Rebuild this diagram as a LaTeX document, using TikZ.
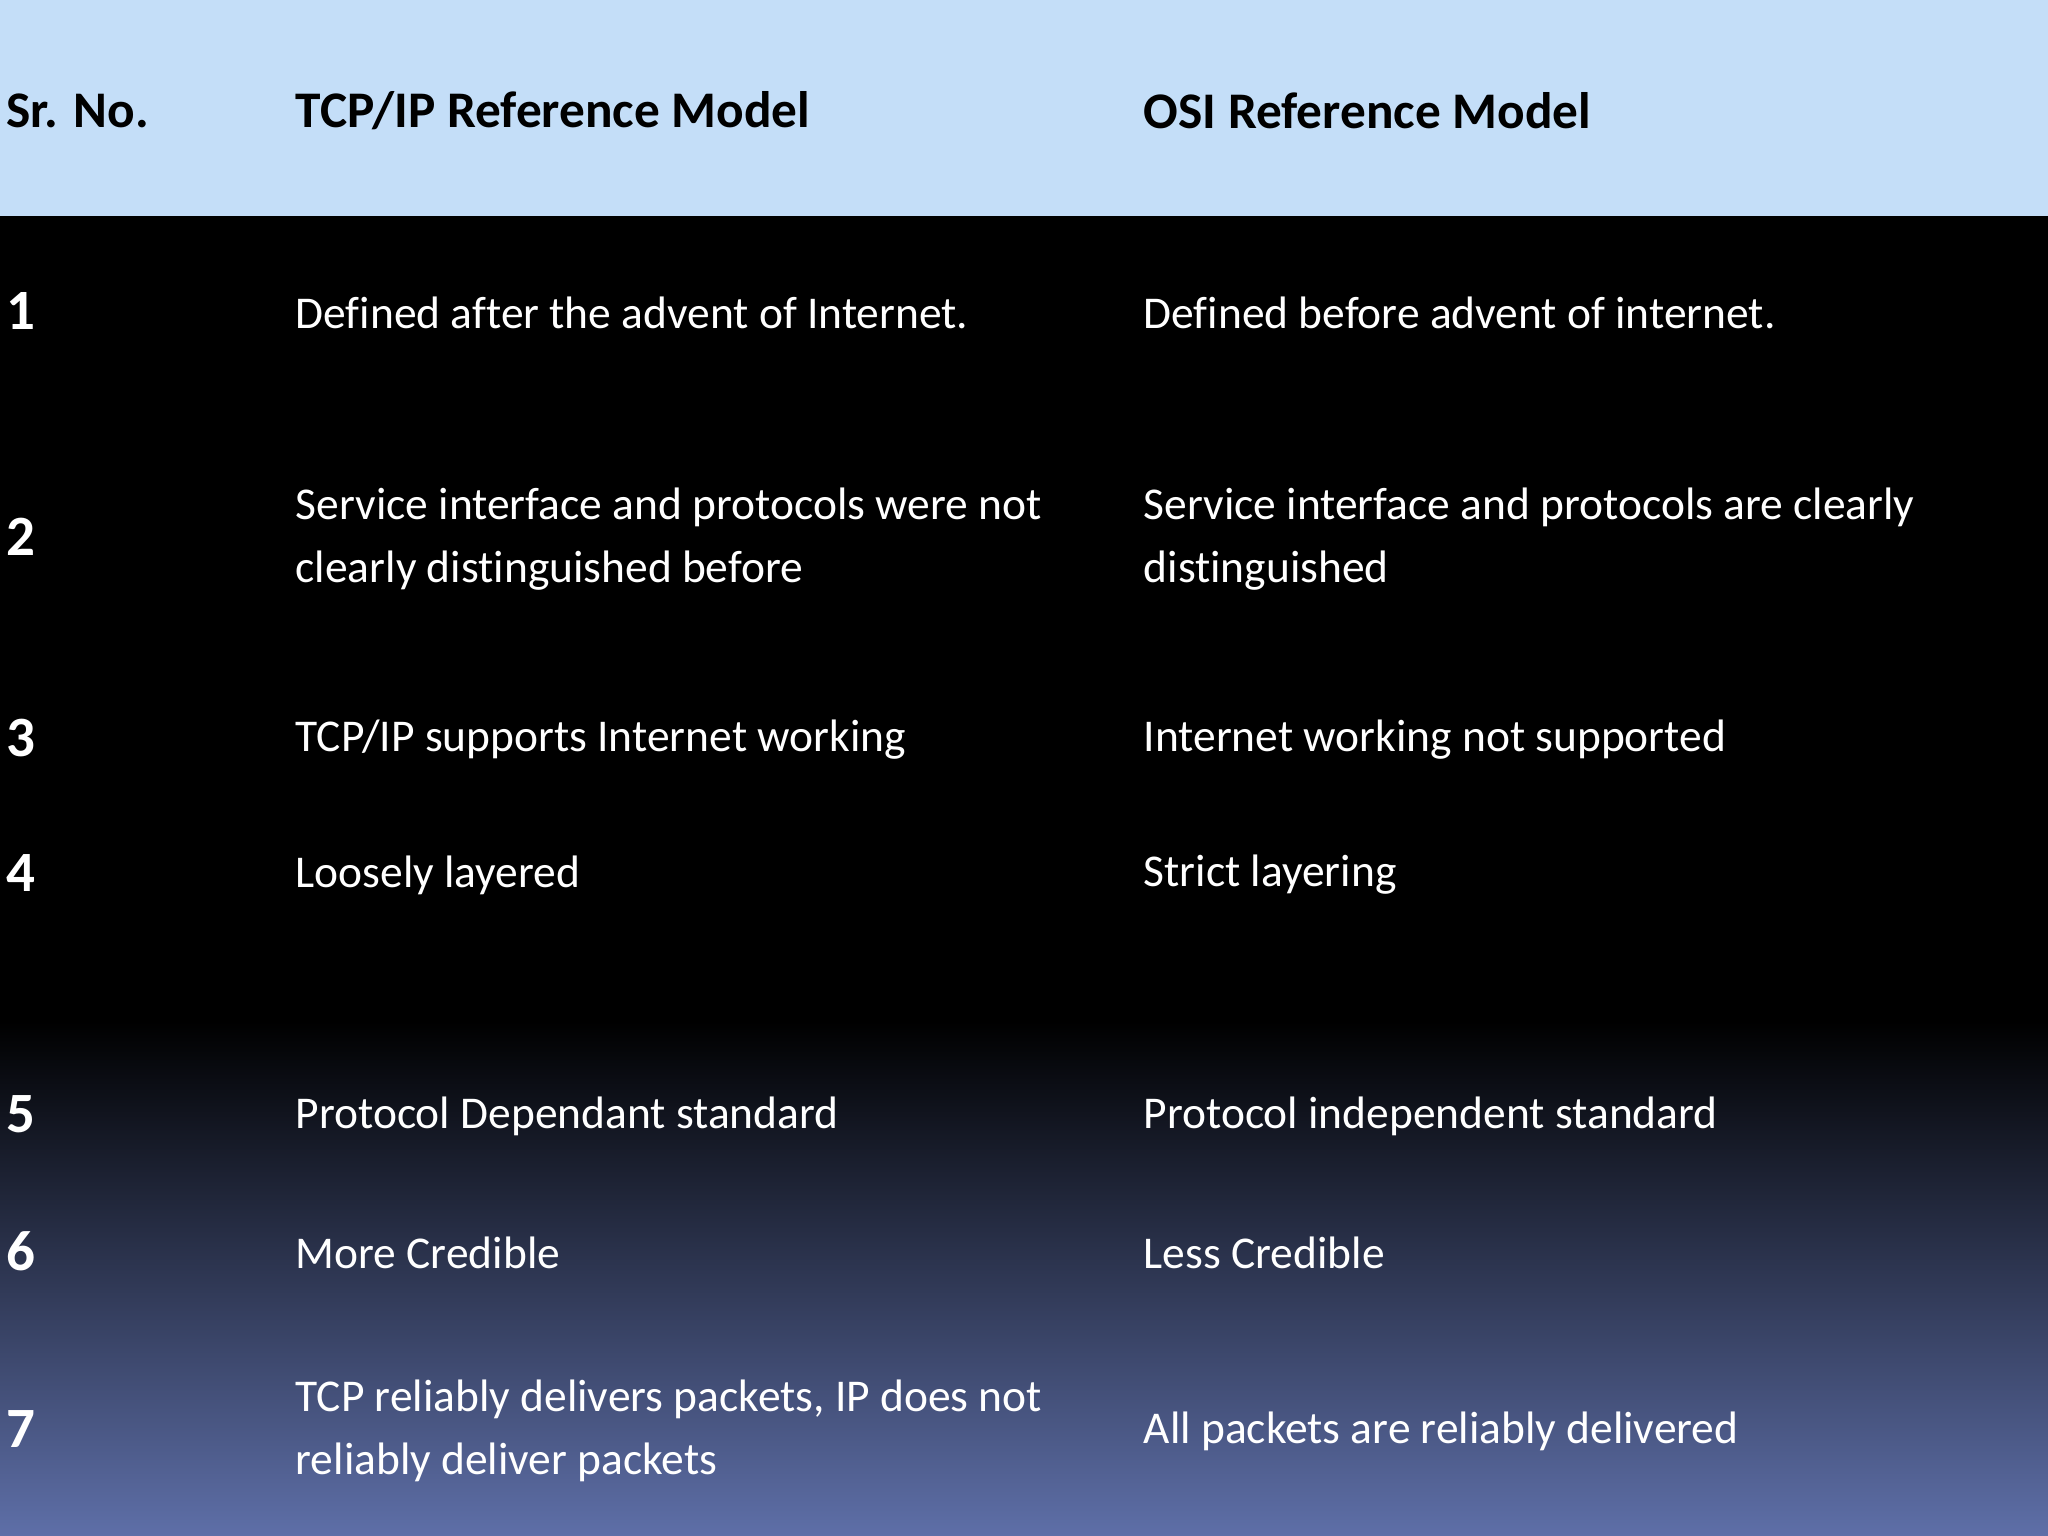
\documentclass[tikz,border=0pt]{standalone}
\usepackage{fontspec}
\setmainfont{Carlito}[RawFeature={-liga;-clig;-dlig}]
\definecolor{headblue}{HTML}{C4DEF8}
\definecolor{lowblue}{HTML}{5E6FA8}
\tikzset{
  headtxt/.style={anchor=west,inner sep=0pt,font=\fontsize{14.6}{17}\selectfont\bfseries,text=black},
  numtxt/.style={anchor=west,inner sep=0pt,font=\fontsize{16.2}{17}\selectfont\bfseries,text=white},
  celltxt/.style={anchor=west,inner sep=0pt,align=left,font=\fontsize{12.93}{17.8}\selectfont,text=white}
}
\begin{document}
\begin{tikzpicture}[x=0.01cm,y=-0.01cm]
\useasboundingbox (0,0) rectangle (2048,1536);
\fill[headblue] (0,0) rectangle (2048,216);
\fill[black] (0,216) rectangle (2048,1022);
\shade[top color=black,bottom color=lowblue] (0,1021) rectangle (2048,1536);
\node[headtxt] (hsr) at (6,111) {Sr. No.};
\node[headtxt] (htcp) at (295,111) {TCP/IP Reference Model};
\node[headtxt] (hosi) at (1143,111) {OSI Reference Model};
\node[numtxt] (n1) at (6,311) {1};
\node[celltxt] (t1) at (295,313) {Defined after the advent of Internet.};
\node[celltxt] (o1) at (1143,313) {Defined before advent of internet.};
\node[numtxt] (n2) at (6,537) {2};
\node[celltxt] (t2) at (295,539) {Service interface and protocols were not\\clearly distinguished before};
\node[celltxt] (o2) at (1143,539) {Service interface and protocols are clearly\\distinguished};
\node[numtxt] (n3) at (6,738) {3};
\node[celltxt] (t3) at (295,740) {TCP/IP supports Internet working};
\node[celltxt] (o3) at (1143,740) {Internet working not supported};
\node[numtxt] (n4) at (6,873) {4};
\node[celltxt] (t4) at (295,875) {Loosely layered};
\node[celltxt] (o4) at (1143,875) {Strict layering};
\node[numtxt] (n5) at (6,1114) {5};
\node[celltxt] (t5) at (295,1116) {Protocol Dependant standard};
\node[celltxt] (o5) at (1143,1116) {Protocol independent standard};
\node[numtxt] (n6) at (6,1251) {6};
\node[celltxt] (t6) at (295,1253) {More Credible};
\node[celltxt] (o6) at (1143,1253) {Less Credible};
\node[numtxt] (n7) at (6,1429) {7};
\node[celltxt] (t7) at (295,1431) {TCP reliably delivers packets, IP does not\\reliably deliver packets};
\node[celltxt] (o7) at (1143,1431) {All packets are reliably delivered};
\end{tikzpicture}
\end{document}
